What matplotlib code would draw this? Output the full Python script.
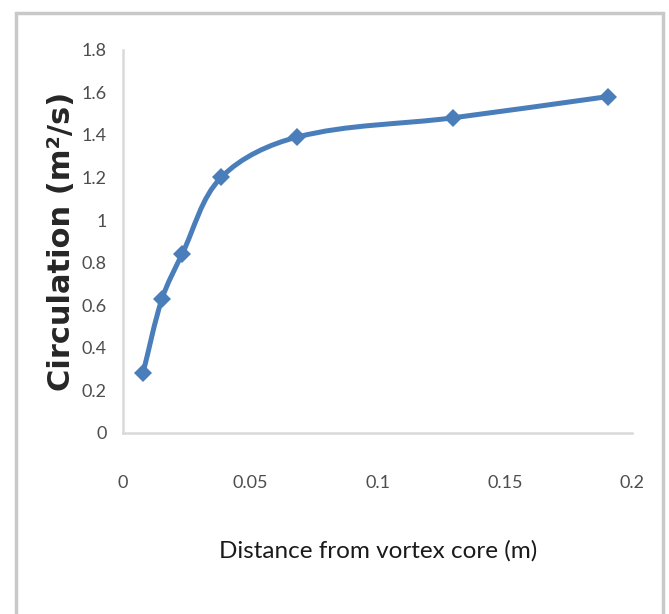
import numpy as np
import matplotlib.pyplot as plt
from matplotlib.path import Path
from matplotlib.patches import PathPatch, Rectangle

# data
distance = [0.0078, 0.0153, 0.0232, 0.0385, 0.0685, 0.1295, 0.1905]
circulation = [0.28, 0.63, 0.84, 1.20, 1.39, 1.48, 1.58]
x_ticks = [0, 0.05, 0.1, 0.15, 0.2]
x_labels = ["0", "0.05", "0.1", "0.15", "0.2"]
y_ticks = [0, 0.2, 0.4, 0.6, 0.8, 1.0, 1.2, 1.4, 1.6, 1.8]
y_labels = ["0", "0.2", "0.4", "0.6", "0.8", "1", "1.2", "1.4", "1.6", "1.8"]

blue = "#4A7EBB"
tick_font = ["Lato", "DejaVu Sans"]

fig = plt.figure(figsize=(6.69, 6.14), dpi=100)
ax = fig.add_axes([0.184, 0.295, 0.761, 0.624])
ax.set_xlim(0, 0.2)
ax.set_ylim(0, 1.8)

# smoothed line like the spreadsheet one: bezier segments whose handles
# follow the neighbour direction, sized by the segment length on screen
def smooth_path(xs, ys):
    pts = ax.transData.transform(np.column_stack([xs, ys]))
    n = len(pts)
    tang = []
    for i in range(n):
        d = pts[min(i + 1, n - 1)] - pts[max(i - 1, 0)]
        tang.append(d / np.hypot(*d))
    verts = [pts[0]]
    codes = [Path.MOVETO]
    for i in range(n - 1):
        L = np.hypot(*(pts[i + 1] - pts[i])) / 3
        verts += [pts[i] + tang[i] * L, pts[i + 1] - tang[i + 1] * L, pts[i + 1]]
        codes += [Path.CURVE4] * 3
    verts = ax.transData.inverted().transform(np.array(verts))
    return Path(verts, codes)

ax.add_patch(PathPatch(smooth_path(distance, circulation), facecolor="none",
                       edgecolor=blue, lw=3.6, capstyle="round", joinstyle="round"))
ax.plot(distance, circulation, linestyle="none", marker="D", ms=9.5,
        color=blue, markeredgewidth=0)

ax.set_xticks(x_ticks)
ax.set_xticklabels(x_labels, family=tick_font, fontsize=13, color="#4D4D4D")
ax.set_yticks(y_ticks)
ax.set_yticklabels(y_labels, family=tick_font, fontsize=13, color="#4D4D4D")
ax.tick_params(length=0)
ax.tick_params(axis="x", pad=30)
ax.tick_params(axis="y", pad=12)

for side in ["top", "right"]:
    ax.spines[side].set_visible(False)
for side in ["left", "bottom"]:
    ax.spines[side].set_color("#D9D9D9")
    ax.spines[side].set_linewidth(1.8)

ax.set_xlabel("Distance from vortex core (m)", family=tick_font, fontsize=17.5,
              color="#1A1A1A", labelpad=36)
ax.set_ylabel("Circulation (m\u00b2/s)", family="DejaVu Sans", fontweight="bold",
              fontsize=22, color="#262626", labelpad=4)

# grey outer frame (top, left, right)
fig.patches.append(Rectangle((16 / 669, -0.1), (663 - 16) / 669, 1.1 - 13 / 614,
                             transform=fig.transFigure, fill=False,
                             edgecolor="#C8C8C8", lw=2.5))

fig.savefig("out.png", dpi=100)
